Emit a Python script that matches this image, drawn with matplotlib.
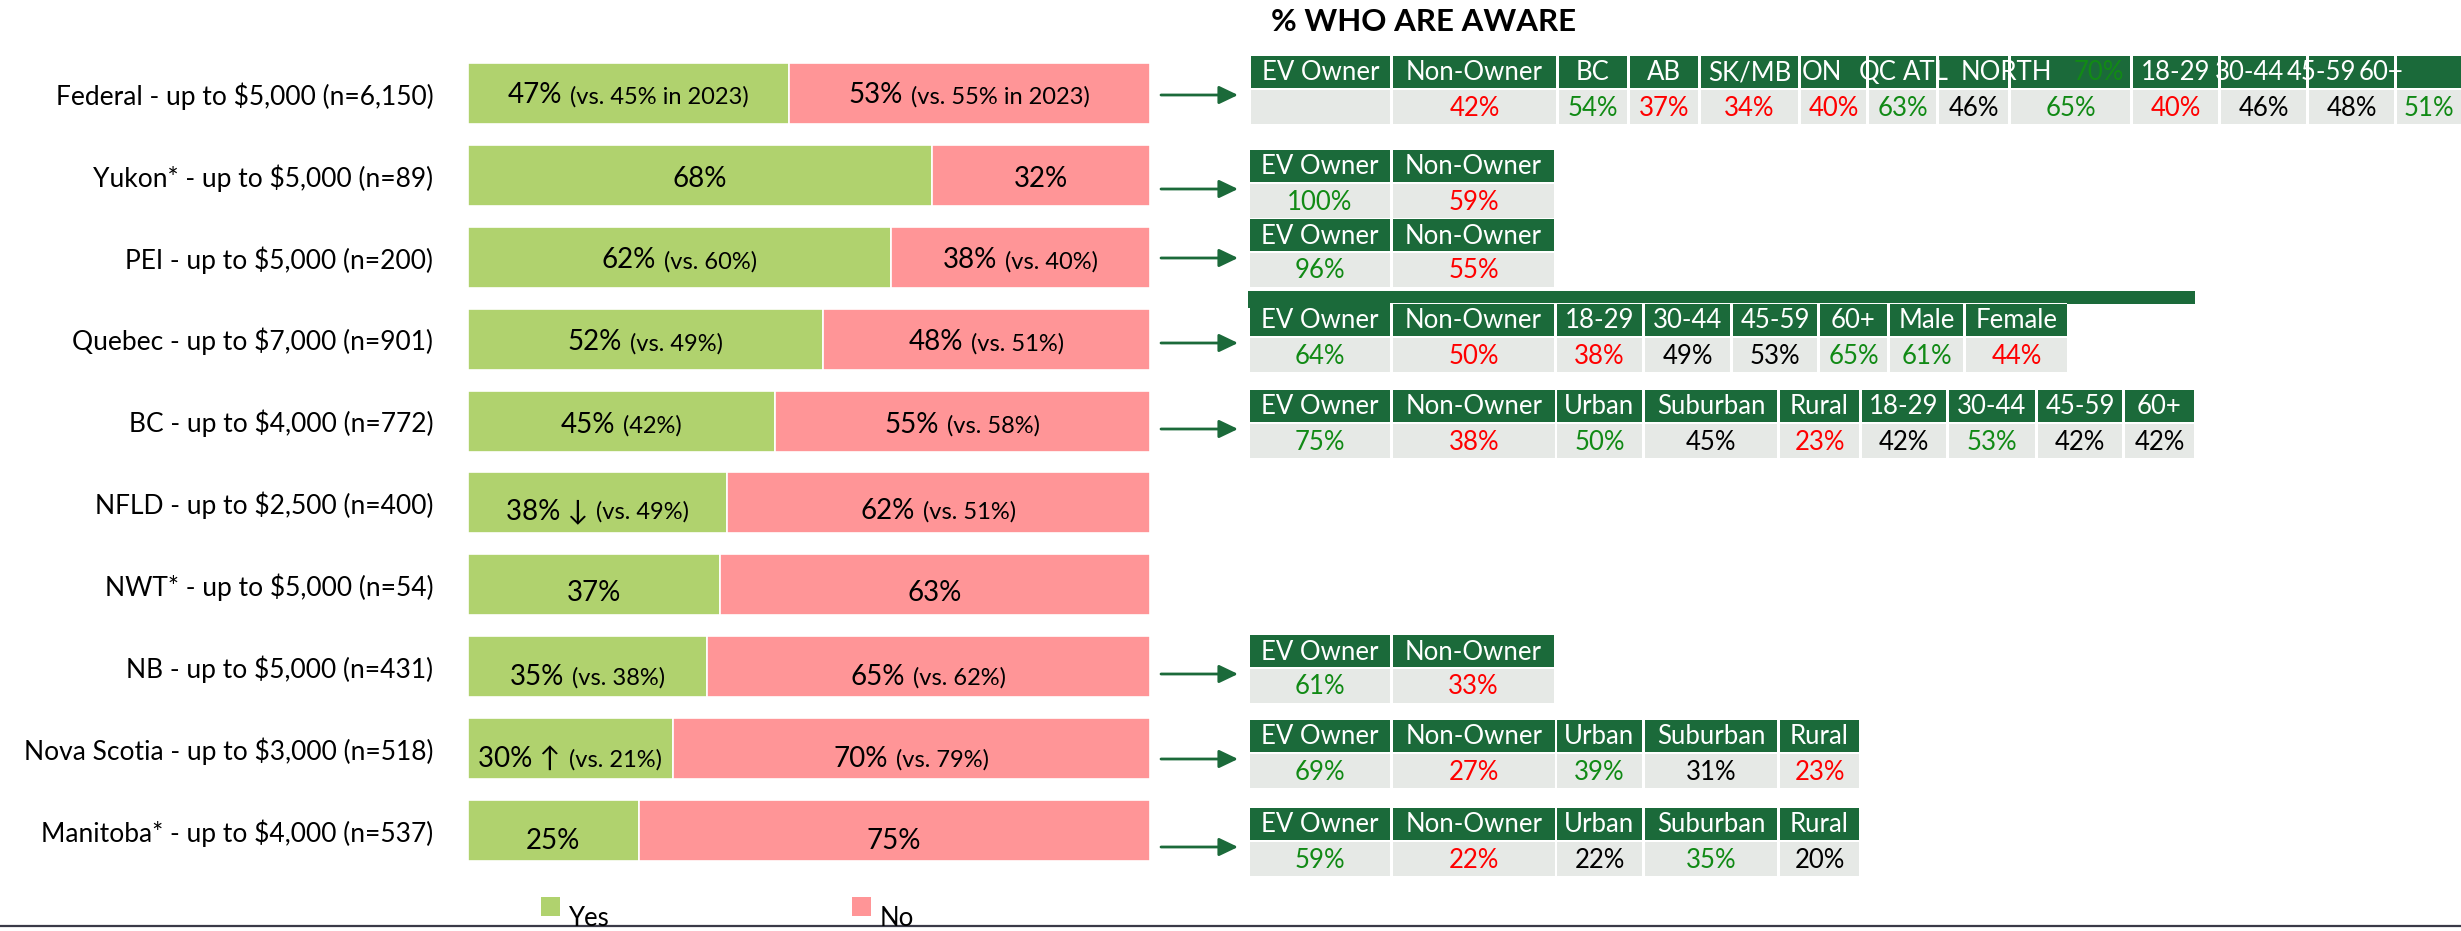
import matplotlib
matplotlib.use("Agg")
import matplotlib.pyplot as plt
from matplotlib.patches import Rectangle
from matplotlib.offsetbox import TextArea, HPacker, AnnotationBbox

plt.rcParams['font.family'] = ['Lato', 'DejaVu Sans']

# === DATA ===
programs = ["Federal - up to $5,000 (n=6,150)", "Yukon* - up to $5,000 (n=89)",
            "PEI - up to $5,000 (n=200)", "Quebec - up to $7,000 (n=901)",
            "BC - up to $4,000 (n=772)", "NFLD - up to $2,500 (n=400)",
            "NWT* - up to $5,000 (n=54)", "NB - up to $5,000 (n=431)",
            "Nova Scotia - up to $3,000 (n=518)", "Manitoba* - up to $4,000 (n=537)"]
yes = [47, 68, 62, 52, 45, 38, 37, 35, 30, 25]
no = [53, 32, 38, 48, 55, 62, 63, 65, 70, 75]
yes_trend = ["", "", "", "", "", "↓", "", "", "↑", ""]
yes_note = ["(vs. 45% in 2023)", "", "(vs. 60%)", "(vs. 49%)", "(42%)",
            "(vs. 49%)", "", "(vs. 38%)", "(vs. 21%)", ""]
no_note = ["(vs. 55% in 2023)", "", "(vs. 40%)", "(vs. 51%)", "(vs. 58%)",
           "(vs. 51%)", "", "(vs. 62%)", "(vs. 79%)", ""]

# awareness breakdowns (value colour: g = above, r = below, k = in line)
fed_hdr = ["EV Owner", "Non-Owner", "BC", "AB", "SK/MB", "ON", "QC", "ATL", "NORTH",
           "18-29", "30-44", "45-59", "60+"]
fed_val = [70, 42, 54, 37, 34, 40, 63, 46, 65, 40, 46, 48, 51]
fed_clr = "grgrrrgkgrkkg"
yk_hdr = ["EV Owner", "Non-Owner"]
yk_val = [100, 59]
yk_clr = "gr"
pei_hdr = ["EV Owner", "Non-Owner"]
pei_val = [96, 55]
pei_clr = "gr"
qc_hdr = ["EV Owner", "Non-Owner", "18-29", "30-44", "45-59", "60+", "Male", "Female"]
qc_val = [64, 50, 38, 49, 53, 65, 61, 44]
qc_clr = "grrkkggr"
bc_hdr = ["EV Owner", "Non-Owner", "Urban", "Suburban", "Rural", "18-29", "30-44", "45-59", "60+"]
bc_val = [75, 38, 50, 45, 23, 42, 53, 42, 42]
bc_clr = "grgkrkgkk"
nb_hdr = ["EV Owner", "Non-Owner"]
nb_val = [61, 33]
nb_clr = "gr"
ns_hdr = ["EV Owner", "Non-Owner", "Urban", "Suburban", "Rural"]
ns_val = [69, 27, 39, 31, 23]
ns_clr = "grgkr"
mb_hdr = ["EV Owner", "Non-Owner", "Urban", "Suburban", "Rural"]
mb_val = [59, 22, 22, 35, 20]
mb_clr = "grkgk"

# === STYLE / LAYOUT ===
W, H = 2461, 931
GREEN_BAR = '#b0d26e'
RED_BAR = '#ff9597'
DARK = '#1b6a3a'
CELL = '#e6e9e6'
TXT = {'g': '#118a15', 'r': '#ff0000', 'k': '#000000'}
text_drop = [2, 4, 3, 3, 4, 8, 8, 10, 10, 10]   # px, label sits a bit low in the bar
HDR_FS = 18.5
VAL_FS = 18.5

two = [(1250, 1390), (1393, 1554)]
fed_cols = [(1251, 1390), (1393, 1556), (1559, 1627), (1630, 1698), (1701, 1798),
            (1801, 1866), (1869, 1936), (1939, 2008), (2011, 2130), (2133, 2218),
            (2221, 2306), (2309, 2394), (2397, 2461)]
# the federal header words run past their cells: left x of each overflowing word
fed_word_x = {5: 1802, 6: 1859, 7: 1903, 8: 1961, 10: 2215, 11: 2287, 12: 2359}
qc_cols = [(1250, 1390), (1393, 1554), (1557, 1642), (1645, 1730), (1733, 1817),
           (1820, 1887), (1890, 1963), (1966, 2067)]
bc_cols = [(1250, 1390), (1393, 1555), (1557, 1642), (1645, 1777), (1780, 1859),
           (1862, 1946), (1949, 2035), (2038, 2122), (2125, 2194)]

fig = plt.figure(figsize=(W / 100, H / 100), dpi=100)

# === BARS ===
y_top, y_bot = 52.5, 871.5
ax = fig.add_axes([468 / W, 1 - y_bot / H, 682 / W, (y_bot - y_top) / H])
rows = list(range(len(programs)))
ax.barh(rows, yes, height=0.745, color=GREEN_BAR, edgecolor='white', linewidth=1.2)
ax.barh(rows, no, left=yes, height=0.745, color=RED_BAR, edgecolor='white', linewidth=1.2)
ax.set_xlim(0, 100)
ax.set_ylim(len(programs) - 0.5, -0.5)
ax.set_yticks(rows, programs, fontsize=19)
ax.tick_params(axis='y', length=0, pad=25)
ax.set_xticks([])
for s in ax.spines.values():
    s.set_visible(False)


def seg_label(xc, row, big, small):
    parts = [TextArea(big, textprops=dict(fontsize=20, color='black'))]
    if small:
        parts.append(TextArea(small, textprops=dict(fontsize=17, color='black')))
    box = HPacker(children=parts, align='baseline', pad=0, sep=6)
    ab = AnnotationBbox(box, (xc, row), xycoords='data', frameon=False, pad=0,
                        box_alignment=(0.5, 0.5), xybox=(0, -text_drop[row] * 0.72),
                        boxcoords='offset points')
    ax.add_artist(ab)


for i in rows:
    big = f"{yes[i]}%" + (f" {yes_trend[i]}" if yes_trend[i] else "")
    seg_label(yes[i] / 2, i, big, yes_note[i])
    seg_label(yes[i] + no[i] / 2, i, f"{no[i]}%", no_note[i])

# === OVERLAY: title, arrows, tables, legend ===
ov = fig.add_axes([0, 0, 1, 1])
ov.set_xlim(0, W)
ov.set_ylim(H, 0)
ov.axis('off')
ov.set_zorder(3)

ov.text(1271, 31, "% WHO ARE AWARE", fontsize=22.5, fontweight='bold', va='baseline', ha='left')

HH, GAP, VH = 32, 2, 34


def draw_table(top, cols, hdr, vals, clrs, hide=()):
    x0, x1 = cols[0][0], cols[-1][1]
    ov.add_patch(Rectangle((x0, top), x1 - x0, HH, color=DARK, lw=0, zorder=1))
    vt = top + HH + GAP
    for j, (a, b) in enumerate(cols):
        ov.add_patch(Rectangle((a, vt), b - a, VH, color=CELL, lw=0, zorder=1))
        if j < len(cols) - 1:
            nxt = cols[j + 1][0]
            ov.add_patch(Rectangle((b, top), nxt - b, HH, color='white', lw=0, zorder=4))
        if hdr[j] is not None:
            ov.text((a + b) / 2, top + HH / 2 + 1, hdr[j], color='white', fontsize=HDR_FS,
                    ha='center', va='center', zorder=3)
        if j not in hide:
            ov.text((a + b) / 2, vt + VH / 2 + 1, f"{vals[j]}%", color=TXT[clrs[j]],
                    fontsize=VAL_FS, ha='center', va='center', zorder=3)
    # arrow from the bar to the table
    ym = top + (HH + GAP + VH) / 2 + 5
    ov.annotate('', xy=(1238, ym), xytext=(1161, ym),
                arrowprops=dict(arrowstyle='-|>,head_length=1.15,head_width=0.55',
                                color=DARK, lw=2, mutation_scale=10,
                                shrinkA=0, shrinkB=0))


# Federal table: header words overflow their cells, EV Owner value sits in the header row
fed_top = 56
fed_centered = [h if j not in fed_word_x else None for j, h in enumerate(fed_hdr)]
draw_table(fed_top, fed_cols, fed_centered, fed_val, fed_clr, hide=(0,))
hy = fed_top + HH / 2 + 1
for j, xw in fed_word_x.items():
    ov.text(xw, hy, fed_hdr[j], color='white', fontsize=HDR_FS,
            ha='left', va='center', zorder=3)
ov.text(fed_cols[8][1] - 6, hy, f"{fed_val[0]}%", color=TXT[fed_clr[0]], fontsize=HDR_FS,
        ha='right', va='center', zorder=3)

draw_table(150, two, yk_hdr, yk_val, yk_clr)
draw_table(219, two, pei_hdr, pei_val, pei_clr)

# Quebec: dark band above the table
ov.add_patch(Rectangle((1248, 291), 2195 - 1248, 13, color=DARK, lw=0, zorder=1))
ov.add_patch(Rectangle((1248, 300), 1390 - 1248, 8, color=DARK, lw=0, zorder=5))
draw_table(304, qc_cols, qc_hdr, qc_val, qc_clr)
ov.add_patch(Rectangle((1390, 303), 2067 - 1390, 1.2, color='white', lw=0, zorder=4))

draw_table(390, bc_cols, bc_hdr, bc_val, bc_clr)
draw_table(635, two, nb_hdr, nb_val, nb_clr)
draw_table(720, bc_cols[:5], ns_hdr, ns_val, ns_clr)
draw_table(808, bc_cols[:5], mb_hdr, mb_val, mb_clr)

# bottom rule and legend
ov.plot([0, W], [925.5, 925.5], color='#3a3a48', lw=1.6, zorder=1)
ov.add_patch(Rectangle((541, 897), 19, 19, color=GREEN_BAR, lw=0, zorder=2))
ov.text(568, 926, "Yes", fontsize=18.5, va='baseline', ha='left', zorder=3)
ov.add_patch(Rectangle((852, 897), 19, 19, color=RED_BAR, lw=0, zorder=2))
ov.text(880, 926, "No", fontsize=18.5, va='baseline', ha='left', zorder=3)

fig.savefig("out.png", dpi=100)
